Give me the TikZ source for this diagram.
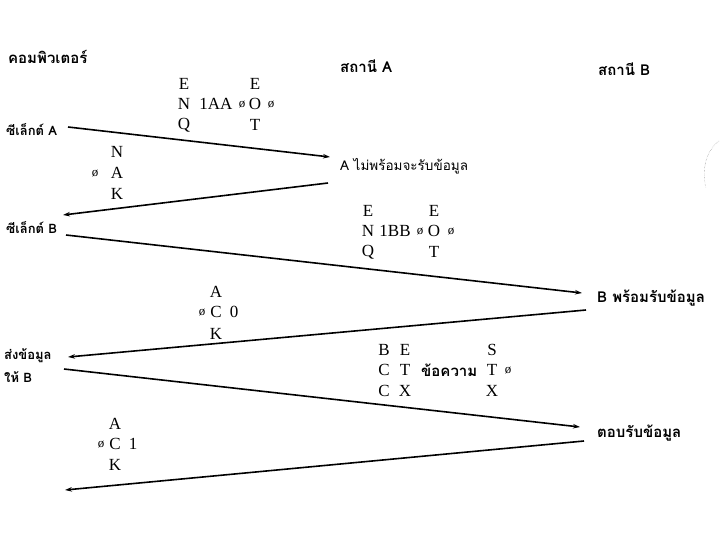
\documentclass[tikz,border=0pt]{standalone}
\usepackage{fontspec}
\setmainfont{Liberation Serif}
\newfontfamily\thai[Script=Thai]{Loma}
\usetikzlibrary{arrows.meta}
\tikzset{
  lt/.style={font=\fontsize{17}{17}\selectfont, inner sep=0pt, anchor=center},
  sm/.style={font=\fontsize{13}{13}\selectfont, inner sep=0pt, anchor=center},
  th/.style={font=\thai\bfseries\fontsize{15}{17}\selectfont, inner sep=0pt, anchor=west},
  thl/.style={font=\thai\bfseries\fontsize{13}{15}\selectfont, inner sep=0pt, anchor=west},
  thr/.style={font=\thai\fontsize{13.5}{15}\selectfont, inner sep=0pt, anchor=west},
  msg/.style={line width=1.6pt, -{Stealth[length=7pt,width=4.5pt]}}
}
\begin{document}
\begin{tikzpicture}[x=1pt,y=-1pt]
\useasboundingbox (0,0) rectangle (720,540);
% headings
\node[th] (comp) at (8,57) {คอมพิวเตอร์};
\node[th] (stA) at (340,66) {สถานี A};
\node[th] (stB) at (598,69) {สถานี B};
% left labels
\node[thl] (selA) at (6,130) {ซีเล็กต์ A};
\node[thl] (selB) at (6,228) {ซีเล็กต์ B};
\node[thl] (send1) at (4,356) {ส่งข้อมูล};
\node[thl] (send2) at (4,377) {ให้ B};
% right labels
\node[thr] (notready) at (340,166) {A ไม่พร้อมจะรับข้อมูล};
\node[th] (ready) at (597,298) {B พร้อมรับข้อมูล};
\node[th] (ackmsg) at (597,433) {ตอบรับข้อมูล};
% ENQ block 1
\node[lt] (e1a) at (184,84) {E};
\node[lt] (e1b) at (184,104) {N};
\node[lt] (e1c) at (184,125) {Q};
\node[lt] (e1d) at (216,104) {1AA};
\node[sm] (e1e) at (242,105) {ø};
\node[lt] (e1f) at (255,84) {E};
\node[lt] (e1g) at (255,104) {O};
\node[lt] (e1h) at (255,125) {T};
\node[sm] (e1i) at (271,105) {ø};
% NAK
\node[lt] (n1a) at (117,152) {N};
\node[sm] (n1b) at (95,174) {ø};
\node[lt] (n1c) at (117,173) {A};
\node[lt] (n1d) at (117,194) {K};
% ENQ block 2
\node[lt] (e2a) at (368,211) {E};
\node[lt] (e2b) at (368,231) {N};
\node[lt] (e2c) at (368,252) {Q};
\node[lt] (e2d) at (395,231) {1BB};
\node[sm] (e2e) at (420,232) {ø};
\node[lt] (e2f) at (434,211) {E};
\node[lt] (e2g) at (434,231) {O};
\node[lt] (e2h) at (434,252) {T};
\node[sm] (e2i) at (451,232) {ø};
% ACK0
\node[lt] (a0a) at (216,292) {A};
\node[sm] (a0b) at (202,313) {ø};
\node[lt] (a0c) at (216,312) {C};
\node[lt] (a0d) at (234,312) {0};
\node[lt] (a0e) at (216,334) {K};
% message block
\node[lt] (m1) at (384,350) {B};
\node[lt] (m2) at (384,370) {C};
\node[lt] (m3) at (384,391) {C};
\node[lt] (m4) at (405,350) {E};
\node[lt] (m5) at (405,370) {T};
\node[lt] (m6) at (405,391) {X};
\node[th] (m7) at (421,370) {ข้อความ};
\node[lt] (m8) at (492,350) {S};
\node[lt] (m9) at (492,370) {T};
\node[sm] (m10) at (508,371) {ø};
\node[lt] (m11) at (492,391) {X};
% ACK1
\node[lt] (a1a) at (115,424) {A};
\node[sm] (a1b) at (101,445) {ø};
\node[lt] (a1c) at (115,444) {C};
\node[lt] (a1d) at (133,444) {1};
\node[lt] (a1e) at (115,465) {K};
% connector ends
\coordinate (p1s) at (68,127);
\coordinate (p1e) at (330,157);
\coordinate (p2s) at (328,183);
\coordinate (p2e) at (63,215);
\coordinate (p3s) at (66,235);
\coordinate (p3e) at (582,293);
\coordinate (p4s) at (586,310);
\coordinate (p4e) at (68,357);
\coordinate (p5s) at (64,369);
\coordinate (p5e) at (580,427);
\coordinate (p6s) at (584,441);
\coordinate (p6e) at (65,490);
\draw[msg] (p1s) -- (p1e);
\draw[msg] (p2s) -- (p2e);
\draw[msg] (p3s) -- (p3e);
\draw[msg] (p4s) -- (p4e);
\draw[msg] (p5s) -- (p5e);
\draw[msg] (p6s) -- (p6e);
% scan mark at right edge
\draw[gray, thin, densely dotted] (719,141) .. controls (707,150) and (701,168) .. (706,188);
\end{tikzpicture}
\end{document}
